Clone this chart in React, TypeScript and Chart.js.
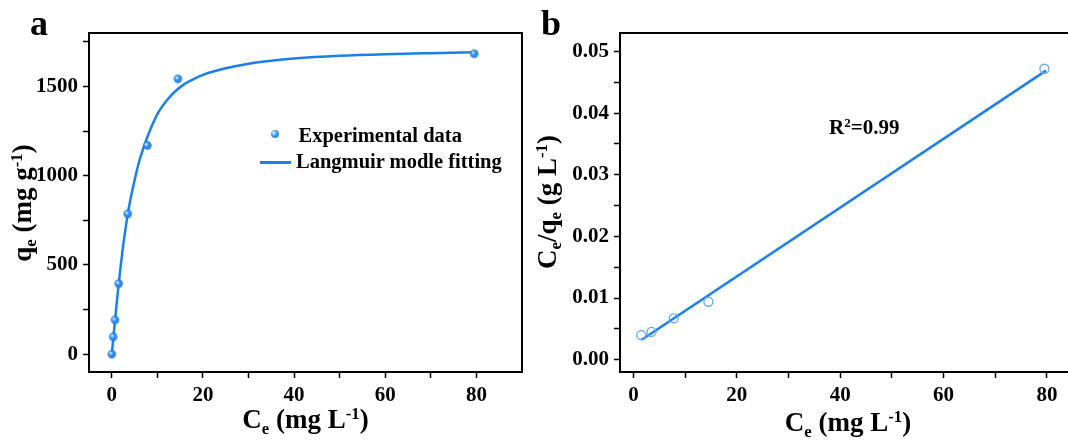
import React, { useEffect, useRef } from "react";
import { Chart, registerables } from "chart.js";

Chart.register(...registerables);

// ---------- data ----------
const ceA = [0, 0.3, 0.7, 1.5, 3.5, 7.8, 14.5, 79.5];
const qeA = [0, 97, 192, 395, 786, 1170, 1543, 1684];

const fitCeA = [0, 0.5, 1, 1.5, 2, 2.5, 3, 3.5, 4, 5, 6, 7, 8, 10, 12, 14, 16, 18, 20, 25, 30, 35, 40, 50, 60, 70, 80];
const fitQeA = [0, 135, 265, 390, 505, 610, 700, 785, 855, 975, 1080, 1160, 1230, 1345, 1420, 1475, 1515, 1542, 1565, 1602, 1628, 1645, 1657, 1672, 1681, 1687, 1692];

const ceB = [1.5, 3.5, 7.8, 14.5, 79.5];
const ratioB = [0.004, 0.0045, 0.0067, 0.0094, 0.0472];
const lineCeB = [1.6, 79.8];
const lineRatioB = [0.00324, 0.0469];

const xMajorA = [0, 20, 40, 60, 80];
const xMinorA = [10, 30, 50, 70];
const yMajorA = [0, 500, 1000, 1500];
const yMinorA = [250, 750, 1250, 1750];
const xMajorB = [0, 20, 40, 60, 80];
const xMinorB = [10, 30, 50, 70];
const yMajorB = [0, 0.01, 0.02, 0.03, 0.04, 0.05];
const yMinorB = [0.005, 0.015, 0.025, 0.035, 0.045];

const legendLabels = ["Experimental data", "Langmuir modle fitting"];
const r2Value = "0.99";

// ---------- styles ----------
const FONT = "'Liberation Serif', 'Times New Roman', serif";
const BLUE = "#1a80e8";
const HOLLOW = "#5fa8f0";

function makeSphere(r: number) {
  const c = document.createElement("canvas");
  const s = Math.ceil(r * 2) + 2;
  c.width = s;
  c.height = s;
  const g = c.getContext("2d")!;
  const cx = s / 2;
  const grad = g.createRadialGradient(cx - r * 0.35, cx - r * 0.35, 0.3, cx, cx, r);
  grad.addColorStop(0, "#eef7ff");
  grad.addColorStop(0.4, "#3f9cf6");
  grad.addColorStop(1, "#1672dc");
  g.fillStyle = grad;
  g.beginPath();
  g.arc(cx, cx, r, 0, Math.PI * 2);
  g.fill();
  return c;
}

function axisOpts(min: number, max: number, major: number[], minor: number[], fmt: (v: number) => string, isX: boolean, fitSize: number) {
  return {
    type: "linear",
    min,
    max,
    afterBuildTicks: (s: any) => {
      s.ticks = [...major, ...minor].sort((a, b) => a - b).map((v) => ({ value: v }));
    },
    afterFit: (s: any) => {
      if (isX) s.height = fitSize;
      else s.width = fitSize;
    },
    grid: {
      display: true,
      drawOnChartArea: false,
      drawTicks: true,
      tickLength: 6,
      tickWidth: 1.5,
      tickColor: "#000",
    },
    border: { display: false },
    ticks: {
      autoSkip: false,
      maxRotation: 0,
      padding: 5,
      color: "#000",
      font: { family: FONT, size: 21, weight: "bold" },
      callback: (v: number) => (major.some((m) => Math.abs(m - v) < 1e-9) ? fmt(v) : ""),
    },
    title: { display: false },
  };
}

const framePlugin = {
  id: "frame",
  afterDraw(chart: any) {
    const { ctx, chartArea } = chart;
    const { left, top, right, bottom } = chartArea;
    ctx.save();
    ctx.strokeStyle = "#000";
    ctx.lineWidth = 2;
    ctx.strokeRect(left, top, right - left, bottom - top);
    ctx.restore();
  },
};

const SUB: React.CSSProperties = { fontSize: "0.62em", position: "relative", top: "0.32em" };
const SUP: React.CSSProperties = { fontSize: "0.62em", position: "relative", top: "-0.55em" };

function Txt(props: { left: number; baseline: number; size: number; center?: boolean; children: React.ReactNode }) {
  const { left, baseline, size, center, children } = props;
  return (
    <div
      style={{
        position: "absolute",
        left,
        top: baseline - 0.8375 * size,
        fontSize: size,
        lineHeight: `${size}px`,
        fontFamily: FONT,
        fontWeight: "bold",
        whiteSpace: "nowrap",
        color: "#000",
        transform: center ? "translateX(-50%)" : undefined,
      }}
    >
      {children}
    </div>
  );
}

function VTxt(props: { cx: number; cy: number; size: number; children: React.ReactNode }) {
  const { cx, cy, size, children } = props;
  return (
    <div
      style={{
        position: "absolute",
        left: cx,
        top: cy,
        fontSize: size,
        lineHeight: `${size}px`,
        fontFamily: FONT,
        fontWeight: "bold",
        whiteSpace: "nowrap",
        color: "#000",
        transform: "translate(-50%, -50%) rotate(-90deg)",
      }}
    >
      {children}
    </div>
  );
}

export default function App() {
  const refA = useRef<HTMLCanvasElement>(null);
  const refB = useRef<HTMLCanvasElement>(null);

  useEffect(() => {
    const sphere = makeSphere(4.2);
    const chartA = new Chart(refA.current!, {
      type: "scatter",
      data: {
        datasets: [
          {
            data: ceA.map((x, i) => ({ x, y: qeA[i] })),
            pointStyle: sphere as any,
            pointRadius: 4,
            showLine: false,
            order: 0,
          } as any,
          {
            data: fitCeA.map((x, i) => ({ x, y: fitQeA[i] })),
            showLine: true,
            borderColor: BLUE,
            borderWidth: 2.5,
            pointRadius: 0,
            cubicInterpolationMode: "monotone",
            fill: false,
            order: 1,
          } as any,
        ],
      },
      options: {
        responsive: false,
        animation: false,
        devicePixelRatio: 1,
        layout: { padding: { left: 0, right: 8, top: 33, bottom: 0 } },
        plugins: { legend: { display: false }, tooltip: { enabled: false } },
        scales: {
          x: axisOpts(-5, 90, xMajorA, xMinorA, (v) => String(v), true, 69) as any,
          y: axisOpts(-100, 1800, yMajorA, yMinorA, (v) => String(v), false, 89) as any,
        },
      } as any,
      plugins: [framePlugin],
    });

    const chartB = new Chart(refB.current!, {
      type: "scatter",
      data: {
        datasets: [
          {
            data: ceB.map((x, i) => ({ x, y: ratioB[i] })),
            pointStyle: "circle",
            pointRadius: 4.5,
            borderWidth: 1.3,
            borderColor: HOLLOW,
            backgroundColor: "rgba(0,0,0,0)",
            showLine: false,
            order: 0,
          } as any,
          {
            data: lineCeB.map((x, i) => ({ x, y: lineRatioB[i] })),
            showLine: true,
            borderColor: BLUE,
            borderWidth: 2.5,
            pointRadius: 0,
            fill: false,
            order: 1,
          } as any,
        ],
      },
      options: {
        responsive: false,
        animation: false,
        devicePixelRatio: 1,
        layout: { padding: { left: 0, right: 12, top: 33, bottom: 0 } },
        plugins: { legend: { display: false }, tooltip: { enabled: false } },
        scales: {
          x: axisOpts(-2.6, 86, xMajorB, xMinorB, (v) => String(v), true, 69) as any,
          y: axisOpts(-0.002, 0.053, yMajorB, yMinorB, (v) => v.toFixed(2), false, 90) as any,
        },
      } as any,
      plugins: [framePlugin],
    });

    return () => {
      chartA.destroy();
      chartB.destroy();
    };
  }, []);

  return (
    <div
      style={{
        position: "fixed",
        left: 0,
        top: 0,
        width: 1068,
        height: 441,
        overflow: "hidden",
        background: "#fff",
      }}
    >
      <canvas ref={refA} width={530} height={441} style={{ position: "absolute", left: 0, top: 0, width: 530, height: 441 }} />
      <canvas ref={refB} width={560} height={441} style={{ position: "absolute", left: 530, top: 0, width: 560, height: 441 }} />

      {/* panel labels */}
      <Txt left={30} baseline={35} size={36}>a</Txt>
      <Txt left={541} baseline={35} size={36}>b</Txt>

      {/* panel a titles */}
      <Txt left={305.5} baseline={429} size={27} center>
        C<span style={SUB}>e</span> (mg L<span style={SUP}>-1</span>)
      </Txt>
      <VTxt cx={24} cy={203} size={27}>
        q<span style={SUB}>e</span> (mg g<span style={SUP}>-1</span>)
      </VTxt>

      {/* panel a legend */}
      <div
        style={{
          position: "absolute",
          left: 271,
          top: 130,
          width: 8,
          height: 8,
          borderRadius: "50%",
          background: "radial-gradient(circle at 35% 35%, #eef7ff 0%, #3f9cf6 40%, #1672dc 100%)",
        }}
      />
      <Txt left={298.5} baseline={141.7} size={20.5}>{legendLabels[0]}</Txt>
      <div style={{ position: "absolute", left: 260, top: 161, width: 31, height: 2.5, background: BLUE }} />
      <Txt left={296} baseline={168.3} size={20.5}>{legendLabels[1]}</Txt>

      {/* panel b titles */}
      <Txt left={848} baseline={432} size={27} center>
        C<span style={SUB}>e</span> (mg L<span style={SUP}>-1</span>)
      </Txt>
      <VTxt cx={548.5} cy={202} size={27}>
        C<span style={SUB}>e</span>/q<span style={SUB}>e</span> (g L<span style={SUP}>-1</span>)
      </VTxt>

      {/* R squared */}
      <Txt left={829} baseline={135} size={21}>
        R<span style={SUP}>2</span>={r2Value}
      </Txt>
    </div>
  );
}
